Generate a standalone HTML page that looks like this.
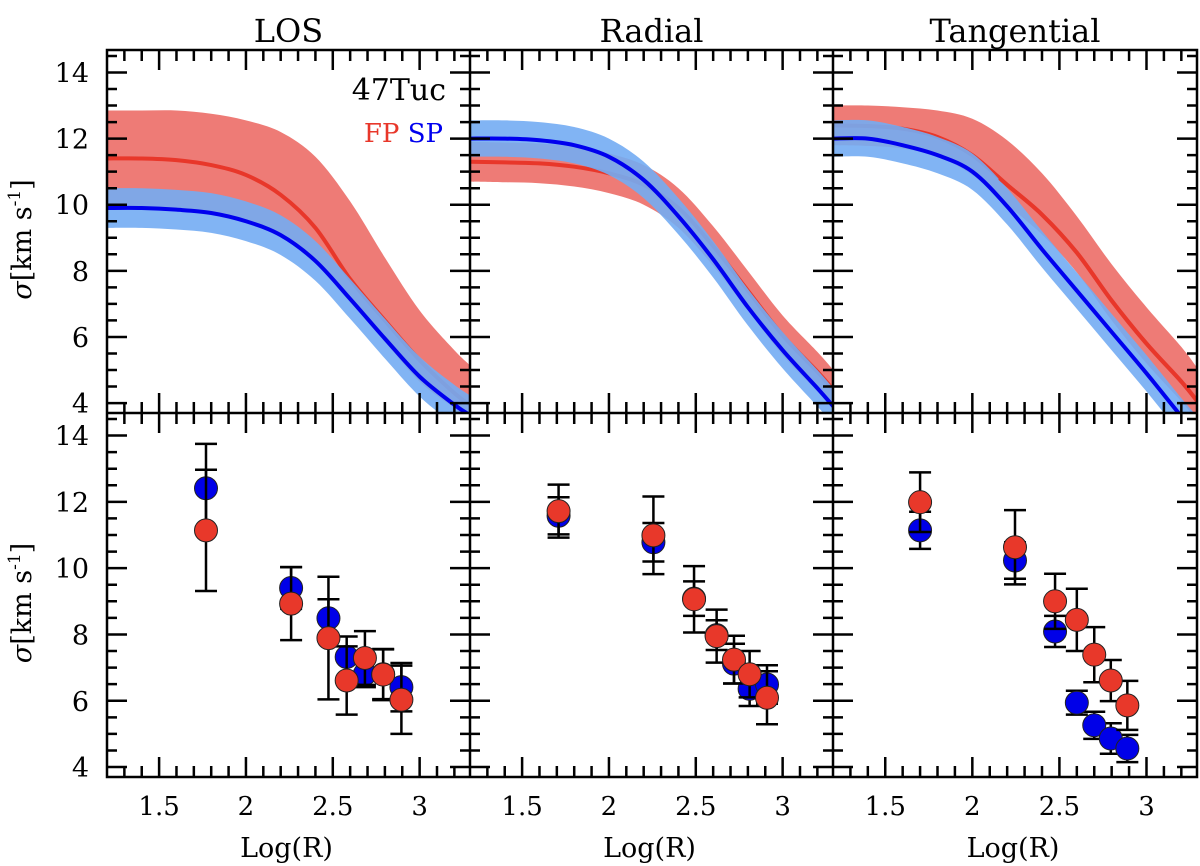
<!DOCTYPE html>
<html><head><meta charset="utf-8"><style>
html,body{margin:0;padding:0;background:#fff;}
svg{display:block;font-family:"DejaVu Serif","Liberation Serif",serif;}
</style></head>
<body>
<svg id="fig" width="1200" height="866" viewBox="0 0 1200 866" xmlns="http://www.w3.org/2000/svg"></svg>
<script>
// ---- data ----
const panelTitles = ["LOS","Radial","Tangential"];
const curveX = [1.2,1.4,1.6,1.8,2.0,2.2,2.4,2.6,2.8,3.0,3.2,3.3];
// LOS models
const losFPmid = [11.4,11.4,11.35,11.2,10.9,10.3,9.3,7.75,6.5,5.3,4.3,3.9];
const losFPup  = [12.85,12.85,12.85,12.75,12.55,12.2,11.45,10.1,8.4,6.8,5.6,5.1];
const losFPlo  = [9.95,9.95,9.9,9.75,9.5,9.05,8.25,7.05,5.85,4.65,3.85,3.45];
const losSPmid = [9.9,9.9,9.85,9.75,9.5,9.08,8.3,7.15,5.95,4.8,3.95,3.6];
const losSPhalf = 0.6;
// Radial models
const radFPmid = [11.3,11.28,11.25,11.15,10.95,10.6,9.9,8.75,7.4,6.05,4.95,4.35];
const radFPhalf = 0.6;
const radSPmid = [12.0,12.0,11.95,11.8,11.45,10.75,9.65,8.35,6.9,5.6,4.45,3.85];
const radSPhalf = 0.55;
// Tangential models
const tanFPmid = [12.4,12.38,12.3,12.05,11.5,10.6,9.7,8.55,7.1,5.8,4.65,4.0];
const tanFPup  = [13.0,13.0,12.95,12.85,12.6,11.95,10.95,9.65,8.2,6.9,5.7,5.0];
const tanFPlo  = [11.8,11.78,11.7,11.45,10.9,10.0,9.1,7.95,6.5,5.2,4.05,3.4];
const tanSPmid = [12.0,12.0,11.8,11.5,11.0,9.95,8.65,7.4,6.15,4.9,3.6,3.0];
const tanSPhalf = 0.55;
// Observed points
const losX   = [1.77,2.26,2.475,2.58,2.685,2.79,2.895];
const losSP  = [12.41,9.4,8.49,7.32,6.81,6.8,6.41];
const losSPe = [1.34,0.63,0.57,0.62,0.4,0.75,0.73];
const losFP  = [11.14,8.93,7.89,6.61,7.29,6.79,6.03];
const losFPe = [1.83,1.1,1.85,1.03,0.81,0.77,1.03];
const radX   = [1.71,2.256,2.49,2.62,2.72,2.81,2.91];
const radSP  = [11.58,10.78,9.08,7.98,7.12,6.36,6.49];
const radSPe = [0.56,0.58,0.52,0.45,0.6,0.52,0.58];
const radFP  = [11.72,10.99,9.06,7.95,7.24,6.8,6.09];
const radFPe = [0.8,1.17,1.0,0.8,0.72,0.7,0.8];
const tanX   = [1.70,2.245,2.475,2.60,2.70,2.795,2.89];
const tanSP  = [11.14,10.23,8.09,5.94,5.26,4.86,4.56];
const tanSPe = [0.56,0.55,0.47,0.36,0.41,0.46,0.41];
const tanFP  = [11.99,10.63,9.0,8.44,7.39,6.61,5.86];
const tanFPe = [0.9,1.12,0.83,0.94,0.83,0.62,0.74];
const xTickLabels = ["1.5","2","2.5","3"];
const yTickLabels = ["4","6","8","10","12","14"];

// ---- layout ----
const NS="http://www.w3.org/2000/svg";
const svg=document.getElementById('fig');
const colX=[107,470,833,1197];
const rowY=[50,413,777];
const XMIN=1.2, XMAX=3.29, YMIN=3.7, YMAX=14.68;
function mk(tag,attrs,parent){const e=document.createElementNS(NS,tag);for(const k in attrs)e.setAttribute(k,attrs[k]);(parent||svg).appendChild(e);return e;}
function sx(c,v){return colX[c]+(v-XMIN)/(XMAX-XMIN)*(colX[c+1]-colX[c]);}
function sy(r,v){return rowY[r+1]-(v-YMIN)/(YMAX-YMIN)*(rowY[r+1]-rowY[r]);}
function smoothPath(pts){
  let d="M"+pts[0][0].toFixed(2)+","+pts[0][1].toFixed(2);
  for(let i=0;i<pts.length-1;i++){
    const p0=pts[Math.max(0,i-1)],p1=pts[i],p2=pts[i+1],p3=pts[Math.min(pts.length-1,i+2)];
    const c1=[p1[0]+(p2[0]-p0[0])/6,p1[1]+(p2[1]-p0[1])/6];
    const c2=[p2[0]-(p3[0]-p1[0])/6,p2[1]-(p3[1]-p1[1])/6];
    d+=" C"+c1[0].toFixed(2)+","+c1[1].toFixed(2)+" "+c2[0].toFixed(2)+","+c2[1].toFixed(2)+" "+p2[0].toFixed(2)+","+p2[1].toFixed(2);
  }
  return d;
}
function bandPath(c,lo,hi){
  const up=curveX.map((x,i)=>[sx(c,x),sy(0,hi[i])]);
  const dn=curveX.map((x,i)=>[sx(c,x),sy(0,lo[i])]).reverse();
  return smoothPath(up)+" "+smoothPath(dn).replace(/^M/,"L")+" Z";
}

const defs=mk('defs',{});
for(let c=0;c<3;c++){for(let r=0;r<2;r++){
  const cp=mk('clipPath',{id:'clip'+c+r},defs);
  mk('rect',{x:colX[c],y:rowY[r],width:colX[c+1]-colX[c],height:rowY[r+1]-rowY[r]},cp);
}}
const cpr=mk('clipPath',{id:'tanright'},defs);
mk('rect',{x:sx(2,2.15),y:rowY[0],width:colX[3]-sx(2,2.15),height:rowY[1]-rowY[0]},cpr);

const models=[
  {fpMid:losFPmid,fpLo:losFPlo,fpUp:losFPup,spMid:losSPmid,spH:losSPhalf},
  {fpMid:radFPmid,fpLo:radFPmid.map(v=>v-radFPhalf),fpUp:radFPmid.map(v=>v+radFPhalf),spMid:radSPmid,spH:radSPhalf},
  {fpMid:tanFPmid,fpLo:tanFPlo,fpUp:tanFPup,spMid:tanSPmid,spH:tanSPhalf}
];
const obs=[
  {x:losX,sp:losSP,spe:losSPe,fp:losFP,fpe:losFPe},
  {x:radX,sp:radSP,spe:radSPe,fp:radFP,fpe:radFPe},
  {x:tanX,sp:tanSP,spe:tanSPe,fp:tanFP,fpe:tanFPe}
];
const key=['los','radial','tangential'];

for(let c=0;c<3;c++){
  const g=mk('g',{'clip-path':'url(#clip'+c+'0)'});
  
  
  const m=models[c];
  const fb=mk('path',{d:bandPath(c,m.fpLo,m.fpUp),fill:'#ee7b76'},g);
  
  
  const fl=mk('path',{d:smoothPath(curveX.map((x,i)=>[sx(c,x),sy(0,m.fpMid[i])])),fill:'none',stroke:'#e8372a','stroke-width':4},g);
  
  
  const spLo=m.spMid.map(v=>v-m.spH), spUp=m.spMid.map(v=>v+m.spH);
  const sb=mk('path',{d:bandPath(c,spLo,spUp),fill:'#73acf3','fill-opacity':'0.9'},g);
  
  
  if(c===2){
    const fl2=mk('path',{d:smoothPath(curveX.map((x,i)=>[sx(c,x),sy(0,m.fpMid[i])])),fill:'none',stroke:'#e8372a','stroke-width':4,'clip-path':'url(#tanright)'},g);
    
    
  }
  const sl=mk('path',{d:smoothPath(curveX.map((x,i)=>[sx(c,x),sy(0,m.spMid[i])])),fill:'none',stroke:'#0000ee','stroke-width':4},g);
  
  

  const gb=mk('g',{'clip-path':'url(#clip'+c+'1)'});
  
  
  const o=obs[c];
  const series=[['sp',o.sp,o.spe,'#0000e8'],['fp',o.fp,o.fpe,'#e8382a']];
  for(const [nm,vals,errs,col] of series){
    for(let i=0;i<o.x.length;i++){
      const px=sx(c,o.x[i]),y1=sy(1,vals[i]+errs[i]),y2=sy(1,vals[i]-errs[i]);
      const eb=mk('path',{d:`M${px},${y1}V${y2}M${px-11},${y1}H${px+11}M${px-11},${y2}H${px+11}`,stroke:'#000','stroke-width':2.5,fill:'none'},gb);
      
      
    }
    for(let i=0;i<o.x.length;i++){
      const pt=mk('circle',{cx:sx(c,o.x[i]),cy:sy(1,vals[i]),r:11.5,fill:col,stroke:'#222','stroke-width':1},gb);
      
      
    }
  }
}

const axes=mk('g',{stroke:'#000','stroke-width':2.5,fill:'none'});


let td="";
for(let c=0;c<3;c++){for(let r=0;r<2;r++){
  const x0=colX[c],x1=colX[c+1],y0=rowY[r],y1=rowY[r+1];
  td+=`M${x0},${y0}H${x1}V${y1}H${x0}Z`;
  for(let k=12;k<=32;k++){const v=k/10;const px=sx(c,v);const L=(k%5===0)?20:11;
    td+=`M${px},${y0}v${L}M${px},${y1}v${-L}`;}
  for(let k=8;k<=29;k++){const v=k/2;const py=sy(r,v);const L=(k%4===0)?20:10;
    td+=`M${x0},${py}h${L}M${x1},${py}h${-L}`;}
}}
mk('path',{d:td},axes);

const txt=mk('g',{fill:'#000'});


for(let c=0;c<3;c++){
  const cx=(colX[c]+colX[c+1])/2;
  const t=mk('text',{x:cx,y:42,'font-size':32,'text-anchor':'middle'},txt);
  t.textContent=panelTitles[c];
  
  
  xTickLabels.forEach(s=>{
    const tl=mk('text',{x:sx(c,parseFloat(s)),y:815,'font-size':26,'text-anchor':'middle'},txt);
    tl.textContent=s;
    
    
  });
  const xl=mk('text',{x:cx-2,y:857,'font-size':27,'text-anchor':'middle'},txt);
  xl.textContent='Log(R)';
  
  
}
for(let r=0;r<2;r++){
  yTickLabels.forEach(s=>{
    const tl=mk('text',{x:89,y:sy(r,parseFloat(s))+10,'font-size':27,'text-anchor':'end'},txt);
    tl.textContent=s;
    
    
  });
  const cy=(rowY[r]+rowY[r+1])/2+8;
  const yl=mk('text',{x:0,y:0,'font-size':27,'text-anchor':'middle',transform:`translate(31,${cy}) rotate(-90)`},txt);
  yl.innerHTML='<tspan font-style="italic">σ</tspan>[km s<tspan dy="-11" font-size="17">-1</tspan><tspan dy="11">]</tspan>';
  
  
}
const cl=mk('text',{x:446,y:100,'font-size':30,'text-anchor':'end'},txt);
cl.textContent='47Tuc';


const lg=mk('text',{x:443,y:142,'font-size':26,'text-anchor':'end'},txt);
lg.innerHTML='<tspan fill="#e8372a">FP</tspan> <tspan fill="#0000ee">SP</tspan>';


</script>
</body></html>
